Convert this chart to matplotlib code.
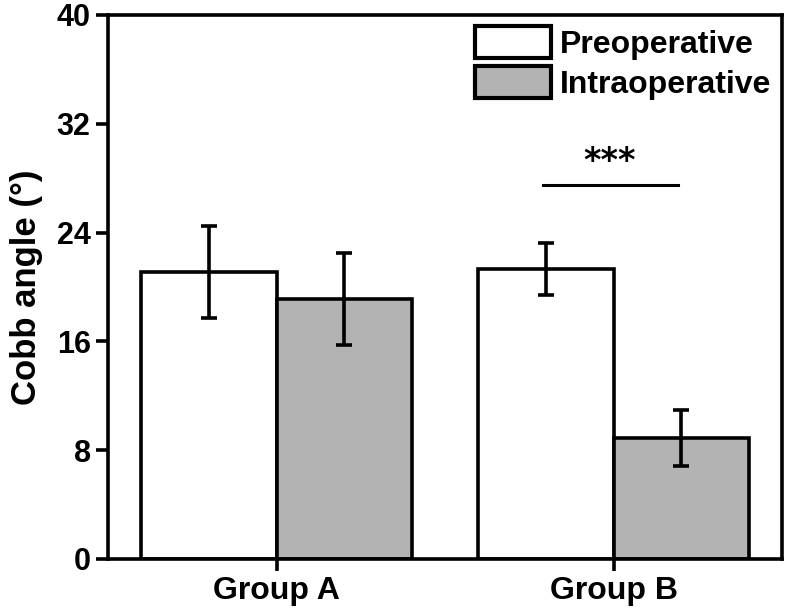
import matplotlib
matplotlib.use("Agg")
import matplotlib.pyplot as plt
import numpy as np

groups = ["Group A", "Group B"]
series = ["Preoperative", "Intraoperative"]
preop_mean = [21.1, 21.3]
preop_err = [3.4, 1.9]
intra_mean = [19.1, 8.9]
intra_err = [3.4, 2.05]
colors = ["white", "#b3b3b3"]
yticks = [0, 8, 16, 24, 32, 40]

plt.rcParams["font.family"] = ["Liberation Sans", "DejaVu Sans"]
plt.rcParams["font.weight"] = "bold"

fig = plt.figure(figsize=(7.87, 6.10), dpi=100)
ax = fig.add_axes([108 / 787, 51 / 610, 674 / 787, 544 / 610])

x = np.arange(len(groups))
w = 0.403
lw = 2.6
ekw = dict(elinewidth=lw, capthick=lw, capsize=5.6, ecolor="black")
ax.bar(x - w / 2, preop_mean, w, yerr=preop_err, color=colors[0], edgecolor="black",
       linewidth=lw, label=series[0], error_kw=ekw, zorder=2)
ax.bar(x + w / 2, intra_mean, w, yerr=intra_err, color=colors[1], edgecolor="black",
       linewidth=lw, label=series[1], error_kw=ekw, zorder=2)

ax.set_xlim(-0.5, 1.5)
ax.set_ylim(0, 40)
ax.set_yticks(yticks)
ax.set_xticks(x)
ax.set_xticklabels(groups, fontsize=23, fontweight="bold")
ax.set_yticklabels([str(t) for t in yticks], fontsize=22, fontweight="bold")
ax.set_ylabel("Cobb angle (°)", fontsize=25, fontweight="bold", labelpad=10)
for s in ax.spines.values():
    s.set_linewidth(lw)
ax.tick_params(axis="both", width=lw, length=8.5, direction="out", pad=4)

# significance
ax.plot([x[1] - 0.208, x[1] + 0.19], [27.5, 27.5], color="black", lw=2.2)
ax.text(x[1] - 0.012, 28.0, "***", ha="center", va="bottom", fontsize=24,
        fontweight="bold", family="DejaVu Sans")

leg = ax.legend(loc="upper right", bbox_to_anchor=(1.0, 1.0), frameon=False, fontsize=23,
                handlelength=2.37, handleheight=1.15, handletextpad=0.28, labelspacing=0.2,
                borderaxespad=0.1, borderpad=0.25)
for t in leg.get_texts():
    t.set_fontweight("bold")
for h in leg.legend_handles:
    h.set_linewidth(3.0)

fig.savefig("out.png", dpi=100)
